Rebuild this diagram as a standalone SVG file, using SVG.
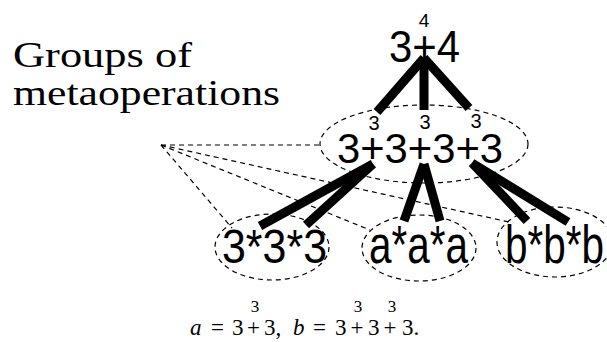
<svg xmlns="http://www.w3.org/2000/svg" width="607" height="342" viewBox="0 0 607 342">
<style>
.sans{font-family:"Liberation Sans",Arial,sans-serif;fill:#000}
.serif{font-family:"Liberation Serif","Times New Roman",serif;fill:#000}
.dash{fill:none;stroke:#000;stroke-width:1.2;stroke-dasharray:5 4}
.thick{stroke:#000;stroke-width:9;stroke-linecap:butt}
.m{text-anchor:middle}
</style>
<rect width="607" height="342" fill="#fff"/>
<g id="label">
<text class="serif" x="13" y="67" font-size="36" textLength="179" lengthAdjust="spacingAndGlyphs">Groups of</text>
<text class="serif" x="13" y="105" font-size="36" textLength="267" lengthAdjust="spacingAndGlyphs">metaoperations</text>
</g>
<g id="pointers">
<line class="dash" x1="161" y1="145" x2="320" y2="145"/>
<line class="dash" x1="161" y1="145" x2="232" y2="228"/>
<line class="dash" x1="161" y1="145" x2="370" y2="230"/>
<line class="dash" x1="161" y1="145" x2="509" y2="222"/>
</g>
<g id="connectors">
<line class="thick" x1="424" y1="58" x2="377" y2="112"/>
<line class="thick" x1="424" y1="58" x2="424" y2="110"/>
<line class="thick" x1="424" y1="58" x2="469" y2="108"/>
<line class="thick" x1="373" y1="164" x2="260" y2="226"/>
<line class="thick" x1="373" y1="164" x2="306" y2="225"/>
<line class="thick" x1="424" y1="164" x2="404" y2="221"/>
<line class="thick" x1="424" y1="164" x2="440" y2="221"/>
<line class="thick" x1="472" y1="163" x2="527" y2="221"/>
<line class="thick" x1="472" y1="163" x2="568" y2="222"/>
</g>
<g id="n-top">
<text class="sans" x="389" y="62" font-size="44" textLength="71" lengthAdjust="spacingAndGlyphs">3+4</text>
<text class="sans m" x="424" y="27" font-size="19">4</text>
</g>
<g id="n-mid">
<ellipse class="dash" cx="424" cy="144" rx="104" ry="39"/>
<text class="sans" x="337" y="163" font-size="42" textLength="166" lengthAdjust="spacingAndGlyphs">3+3+3+3</text>
<text class="sans m" x="374" y="130" font-size="20">3</text>
<text class="sans m" x="425" y="129" font-size="20">3</text>
<text class="sans m" x="476" y="128" font-size="20">3</text>
</g>
<g id="n-333">
<ellipse class="dash" cx="272" cy="247" rx="57" ry="33"/>
<text class="sans" x="222" y="263" font-size="48" textLength="105" lengthAdjust="spacingAndGlyphs">3*3*3</text>
</g>
<g id="n-aaa">
<ellipse class="dash" cx="419" cy="248" rx="57" ry="33"/>
<text class="sans" x="369" y="263" font-size="54" textLength="99" lengthAdjust="spacingAndGlyphs">a*a*a</text>
</g>
<g id="n-bbb">
<ellipse class="dash" cx="555" cy="242" rx="58" ry="35"/>
<text class="sans" x="505" y="263" font-size="54" textLength="99" lengthAdjust="spacingAndGlyphs">b*b*b</text>
</g>
<g id="formula" class="serif" font-size="23">
<text x="190" y="335" font-style="italic">a</text>
<text class="m" x="217.5" y="335">=</text>
<text x="232" y="335">3</text>
<text class="m" x="253.5" y="335">+</text>
<text x="264" y="335">3,</text>
<text x="293" y="335" font-style="italic">b</text>
<text class="m" x="319.5" y="335">=</text>
<text x="335" y="335">3</text>
<text class="m" x="357" y="335">+</text>
<text x="368" y="335">3</text>
<text class="m" x="390" y="335">+</text>
<text x="402" y="335">3.</text>
<text class="m" x="255" y="312" font-size="17">3</text>
<text class="m" x="358" y="312" font-size="17">3</text>
<text class="m" x="392" y="312" font-size="17">3</text>
</g>
</svg>
